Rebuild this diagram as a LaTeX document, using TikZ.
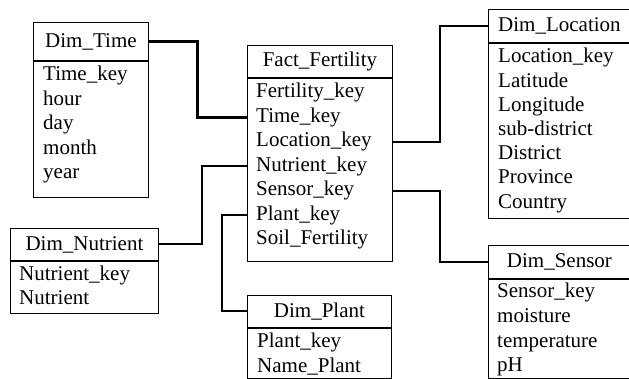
\documentclass[tikz,border=0pt]{standalone}
\usepackage{fontspec}
\setmainfont{Liberation Serif}
\usepackage{tikz}
\tikzset{
  hdr/.style={draw,line width=0.9pt,anchor=north west,inner sep=0pt,minimum height=33pt},
  body/.style={draw,line width=0.9pt,anchor=north west,inner sep=0pt},
  row/.style={anchor=base west,inner sep=0pt},
  link/.style={line width=2pt},
  tlink/.style={line width=3pt}
}
\begin{document}
\begin{tikzpicture}[x=1pt,y=-1pt,font=\fontsize{21}{24}\selectfont]
\clip (0,0) rectangle (629,379);
% fact table
\node[hdr,minimum width=145pt,minimum height=32pt] (fact) at (247,45) {Fact\_Fertility};
\node[body,minimum width=145pt,minimum height=183pt] (factbody) at (fact.south west) {};
\foreach \t [count=\i from 0] in {Fertility\_key,Time\_key,Location\_key,Nutrient\_key,Sensor\_key,Plant\_key,Soil\_Fertility}
  \node[row] (fact\i) at (256,98+24.5*\i) {\t};
% dimensions
\node[hdr,minimum width=115pt,minimum height=38pt] (time) at (33,22) {Dim\_Time};
\node[body,minimum width=115pt,minimum height=136pt] (timebody) at (time.south west) {};
\foreach \t [count=\i from 0] in {Time\_key,hour,day,month,year}
  \node[row] (time\i) at (43,81+24.5*\i) {\t};
\node[hdr,minimum width=142pt] (loc) at (488,9) {Dim\_Location};
\node[body,minimum width=142pt,minimum height=175pt] (locbody) at (loc.south west) {};
\foreach \t [count=\i from 0] in {Location\_key,Latitude,Longitude,sub-district,District,Province,Country}
  \node[row] (loc\i) at (498,63+24.2*\i) {\t};
\node[hdr,minimum width=142pt] (sensor) at (488,245) {Dim\_Sensor};
\node[body,minimum width=142pt,minimum height=99.3pt] (sensorbody) at (sensor.south west) {};
\foreach \t [count=\i from 0] in {Sensor\_key,moisture,temperature,pH}
  \node[row] (sensor\i) at (497,298+24.6*\i) {\t};
\node[hdr,minimum width=148pt,minimum height=32pt] (nutr) at (10,228) {Dim\_Nutrient};
\node[body,minimum width=148pt,minimum height=52pt] (nutrbody) at (nutr.south west) {};
\foreach \t [count=\i from 0] in {Nutrient\_key,Nutrient}
  \node[row] (nutr\i) at (19,281+24*\i) {\t};
\node[hdr,minimum width=144pt,minimum height=32pt] (plant) at (247,295) {Dim\_Plant};
\node[body,minimum width=144pt,minimum height=50.3pt] (plantbody) at (plant.south west) {};
\foreach \t [count=\i from 0] in {Plant\_key,Name\_Plant}
  \node[row] (plant\i) at (257,347+25*\i) {\t};
% links
\draw[tlink] (time.east) -- ++(49,0) |- (fact1 -| factbody.west);
\draw[link] (fact2 -| factbody.east) -- ++(47,0) |- (loc.west);
\draw[link] (fact4 -| factbody.east) -- ++(47,0) |- (sensor.west);
\draw[link] (fact3 -| factbody.west) -- ++(-45,0) |- (nutr.east);
\draw[link] (fact5 -| factbody.west) -- ++(-25,0) |- (plant.west);
\end{tikzpicture}
\end{document}
